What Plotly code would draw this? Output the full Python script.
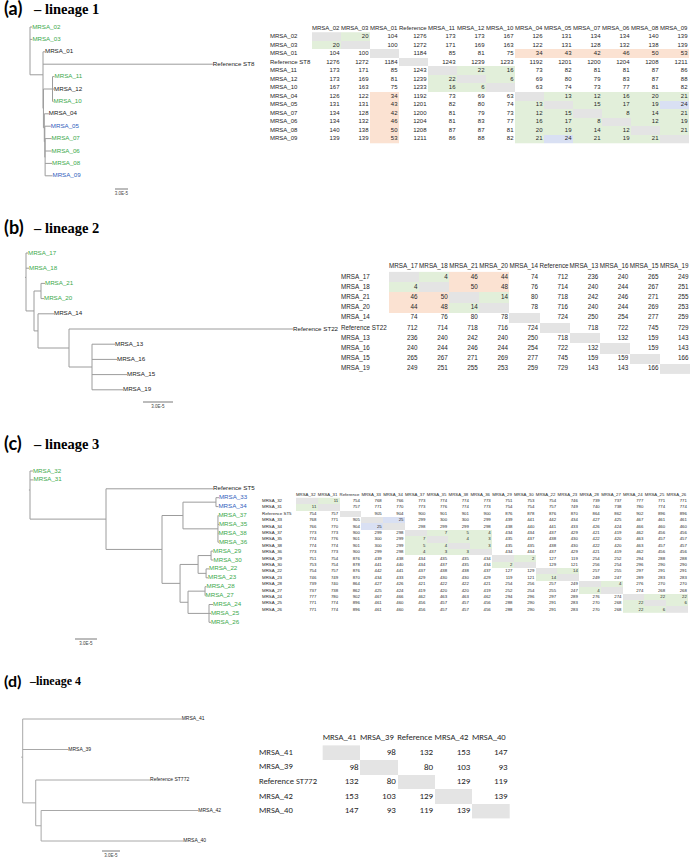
import plotly.graph_objects as go

W, H = 691, 859

# ------------------------------------------------------------------ DATA
# Trees (branch lengths in units of 1E-5 substitutions/site)
tree_a = ("(MRSA_02:0.5,MRSA_03:0.55,(MRSA_01:0.46,Reference ST8:39.2,"
          "((MRSA_11:0.46,MRSA_12:0.35,MRSA_10:0.23):2.1,"
          "(MRSA_04:1.04,(MRSA_05:1.38,(MRSA_07:1.5,MRSA_06:1.5,MRSA_08:1.6,MRSA_09:1.7):0.07):0.12):0.2):0.1):3.0):0;")
tree_b = ("(MRSA_17:0.2,MRSA_18:0.3,((MRSA_21:0.4,MRSA_20:0.3):0.7,"
          "(MRSA_14:1.6,(Reference ST22:22.4,(MRSA_13:2.3,MRSA_16:2.5,MRSA_15:3.5,MRSA_19:3.1):2.3):3.1):0.4):0.8):0.1;")
tree_c = ("(MRSA_32:0.4,MRSA_31:0.48,(Reference ST5:14.6,(((MRSA_33:0.41,MRSA_34:0.34):4.5,"
          "(MRSA_37:0.07,MRSA_35:0.14,MRSA_38:0.07,MRSA_36:0.14):4.77):2.86,"
          "(((MRSA_29:0.27,MRSA_30:0.34):1.77,(MRSA_22:0.41,MRSA_23:0.27):1.09):2.46,"
          "((MRSA_28:0.2,MRSA_27:0.07):2.32,(MRSA_24:0.55,MRSA_25:0.27,MRSA_26:0.27):2.86):1.09):2.46):7.64):10.37):0.15;")
tree_d = ("(MRSA_41:26.5,MRSA_39:7.6,(Reference ST772:19.05,(MRSA_42:26.2,MRSA_40:23.7):0.9):2.17):0.25;")

green_leaves = ["MRSA_02", "MRSA_03", "MRSA_11", "MRSA_10", "MRSA_07", "MRSA_06", "MRSA_08",
                "MRSA_17", "MRSA_18", "MRSA_21", "MRSA_20",
                "MRSA_32", "MRSA_31", "MRSA_37", "MRSA_35", "MRSA_38", "MRSA_36", "MRSA_29", "MRSA_30",
                "MRSA_22", "MRSA_23", "MRSA_28", "MRSA_27", "MRSA_24", "MRSA_25", "MRSA_26"]
blue_leaves = ["MRSA_05", "MRSA_09", "MRSA_33", "MRSA_34"]

# SNP distance matrices
rows_a = ["MRSA_02", "MRSA_03", "MRSA_01", "Reference ST8", "MRSA_11", "MRSA_12", "MRSA_10",
          "MRSA_04", "MRSA_05", "MRSA_07", "MRSA_06", "MRSA_08", "MRSA_09"]
head_a = ["MRSA_02", "MRSA_03", "MRSA_01", "Reference", "MRSA_11", "MRSA_12", "MRSA_10",
          "MRSA_04", "MRSA_05", "MRSA_07", "MRSA_06", "MRSA_08", "MRSA_09"]
dist_a = [
    [None, 20, 104, 1276, 173, 173, 167, 126, 131, 134, 134, 140, 139],
    [20, None, 100, 1272, 171, 169, 163, 122, 131, 128, 132, 138, 139],
    [104, 100, None, 1184, 85, 81, 75, 34, 43, 42, 46, 50, 53],
    [1276, 1272, 1184, None, 1243, 1239, 1233, 1192, 1201, 1200, 1204, 1208, 1211],
    [173, 171, 85, 1243, None, 22, 16, 73, 82, 81, 81, 87, 86],
    [173, 169, 81, 1239, 22, None, 6, 69, 80, 79, 83, 87, 88],
    [167, 163, 75, 1233, 16, 6, None, 63, 74, 73, 77, 81, 82],
    [126, 122, 34, 1192, 73, 69, 63, None, 13, 12, 16, 20, 21],
    [131, 131, 43, 1201, 82, 80, 74, 13, None, 15, 17, 19, 24],
    [134, 128, 42, 1200, 81, 79, 73, 12, 15, None, 8, 14, 21],
    [134, 132, 46, 1204, 81, 83, 77, 16, 17, 8, None, 12, 19],
    [140, 138, 50, 1208, 87, 87, 81, 20, 19, 14, 12, None, 21],
    [139, 139, 53, 1211, 86, 88, 82, 21, 24, 21, 19, 21, None],
]
green_a = [["MRSA_02", "MRSA_03"], ["MRSA_11", "MRSA_12", "MRSA_10"],
           ["MRSA_04", "MRSA_05", "MRSA_07", "MRSA_06", "MRSA_08", "MRSA_09"]]
orange_a = [(["MRSA_01"], ["MRSA_04", "MRSA_05", "MRSA_07", "MRSA_06", "MRSA_08", "MRSA_09"])]
blue_a = [["MRSA_05", "MRSA_09"]]

rows_b = ["MRSA_17", "MRSA_18", "MRSA_21", "MRSA_20", "MRSA_14", "Reference ST22",
          "MRSA_13", "MRSA_16", "MRSA_15", "MRSA_19"]
head_b = ["MRSA_17", "MRSA_18", "MRSA_21", "MRSA_20", "MRSA_14", "Reference",
          "MRSA_13", "MRSA_16", "MRSA_15", "MRSA_19"]
dist_b = [
    [None, 4, 46, 44, 74, 712, 236, 240, 265, 249],
    [4, None, 50, 48, 76, 714, 240, 244, 267, 251],
    [46, 50, None, 14, 80, 718, 242, 246, 271, 255],
    [44, 48, 14, None, 78, 716, 240, 244, 269, 253],
    [74, 76, 80, 78, None, 724, 250, 254, 277, 259],
    [712, 714, 718, 716, 724, None, 718, 722, 745, 729],
    [236, 240, 242, 240, 250, 718, None, 132, 159, 143],
    [240, 244, 246, 244, 254, 722, 132, None, 159, 143],
    [265, 267, 271, 269, 277, 745, 159, 159, None, 166],
    [249, 251, 255, 253, 259, 729, 143, 143, 166, None],
]
green_b = [["MRSA_17", "MRSA_18"], ["MRSA_21", "MRSA_20"]]
orange_b = [(["MRSA_17", "MRSA_18"], ["MRSA_21", "MRSA_20"])]
blue_b = []

rows_c = ["MRSA_32", "MRSA_31", "Reference ST5", "MRSA_33", "MRSA_34", "MRSA_37", "MRSA_35", "MRSA_38",
          "MRSA_36", "MRSA_29", "MRSA_30", "MRSA_22", "MRSA_23", "MRSA_28", "MRSA_27", "MRSA_24",
          "MRSA_25", "MRSA_26"]
head_c = ["MRSA_32", "MRSA_31", "Reference", "MRSA_33", "MRSA_34", "MRSA_37", "MRSA_35", "MRSA_38",
          "MRSA_36", "MRSA_29", "MRSA_30", "MRSA_22", "MRSA_23", "MRSA_28", "MRSA_27", "MRSA_24",
          "MRSA_25", "MRSA_26"]
dist_c = [
    [None, 11, 754, 768, 766, 773, 774, 774, 773, 751, 753, 754, 746, 739, 737, 777, 771, 771],
    [11, None, 757, 771, 770, 773, 776, 774, 773, 754, 754, 757, 749, 740, 738, 780, 774, 774],
    [754, 757, None, 905, 904, 900, 901, 901, 900, 876, 878, 876, 870, 864, 862, 902, 896, 896],
    [768, 771, 905, None, 25, 299, 300, 300, 299, 439, 441, 442, 434, 427, 425, 467, 461, 461],
    [766, 770, 904, 25, None, 298, 299, 299, 298, 438, 440, 441, 433, 426, 424, 466, 460, 460],
    [773, 773, 900, 299, 298, None, 7, 5, 4, 434, 434, 437, 429, 421, 419, 462, 456, 456],
    [774, 776, 901, 300, 299, 7, None, 4, 3, 435, 437, 438, 430, 422, 420, 463, 457, 457],
    [774, 774, 901, 300, 299, 5, 4, None, 3, 435, 435, 438, 430, 422, 420, 463, 457, 457],
    [773, 773, 900, 299, 298, 4, 3, 3, None, 434, 434, 437, 429, 421, 419, 462, 456, 456],
    [751, 754, 876, 439, 438, 434, 435, 435, 434, None, 2, 127, 119, 254, 252, 294, 288, 288],
    [753, 754, 878, 441, 440, 434, 437, 435, 434, 2, None, 129, 121, 256, 254, 296, 290, 290],
    [754, 757, 876, 442, 441, 437, 438, 438, 437, 127, 129, None, 14, 257, 255, 297, 291, 291],
    [746, 749, 870, 434, 433, 429, 430, 430, 429, 119, 121, 14, None, 249, 247, 289, 283, 283],
    [739, 740, 864, 427, 426, 421, 422, 422, 421, 254, 256, 257, 249, None, 4, 276, 270, 270],
    [737, 738, 862, 425, 424, 419, 420, 420, 419, 252, 254, 255, 247, 4, None, 274, 268, 268],
    [777, 780, 902, 467, 466, 462, 463, 463, 462, 294, 296, 297, 289, 276, 274, None, 22, 22],
    [771, 774, 896, 461, 460, 456, 457, 457, 456, 288, 290, 291, 283, 270, 268, 22, None, 6],
    [771, 774, 896, 461, 460, 456, 457, 457, 456, 288, 290, 291, 283, 270, 268, 22, 6, None],
]
green_c = [["MRSA_32", "MRSA_31"], ["MRSA_37", "MRSA_35", "MRSA_38", "MRSA_36"],
           ["MRSA_29", "MRSA_30"], ["MRSA_22", "MRSA_23"], ["MRSA_28", "MRSA_27"],
           ["MRSA_24", "MRSA_25", "MRSA_26"]]
orange_c = []
blue_c = [["MRSA_33", "MRSA_34"]]

rows_d = ["MRSA_41", "MRSA_39", "Reference ST772", "MRSA_42", "MRSA_40"]
head_d = ["MRSA_41", "MRSA_39", "Reference", "MRSA_42", "MRSA_40"]
dist_d = [
    [None, 98, 132, 153, 147],
    [98, None, 80, 103, 93],
    [132, 80, None, 129, 119],
    [153, 103, 129, None, 139],
    [147, 93, 119, 139, None],
]
green_d, orange_d, blue_d = [], [], []

titles = [("(a)", "– lineage 1"), ("(b)", "– lineage 2"), ("(c)", "– lineage 3"), ("(d)", "–lineage 4")]
scale_label = "3.0E-5"
scale_len = 3.0

# ------------------------------------------------------------------ STYLE
GREEN = "#3aa94a"
BLUE = "#2f5dbd"
BLACK = "#1a1a1a"
LINE = "#9c9c9c"
TXT = "#262626"
C_GRAY, C_GREEN, C_ORANGE, C_BLUE = "#e4e4e4", "#e2efda", "#fbe2d2", "#d9e0f3"
SANS = "Liberation Sans, Arial, sans-serif"
XL = "Carlito, Lato, sans-serif"
SERIF = "Liberation Serif, Times New Roman, serif"


def parse_newick(s):
    s = s.strip().rstrip(";")
    pos = 0

    def node():
        nonlocal pos
        n = {"children": [], "name": "", "len": 0.0}
        if s[pos] == "(":
            pos += 1
            while True:
                n["children"].append(node())
                if s[pos] == ",":
                    pos += 1
                    continue
                if s[pos] == ")":
                    pos += 1
                    break
        start = pos
        while pos < len(s) and s[pos] not in ":,()":
            pos += 1
        n["name"] = s[start:pos].strip()
        if pos < len(s) and s[pos] == ":":
            pos += 1
            start = pos
            while pos < len(s) and s[pos] not in ",()":
                pos += 1
            n["len"] = float(s[start:pos])
        return n

    return node()


def tree_layout(root):
    leaves, sx, sy = [], [], []

    def walk(n, x0):
        x = x0 + n["len"]
        if not n["children"]:
            y = len(leaves)
            leaves.append((n["name"], x, y))
        else:
            ys = [walk(c, x) for c in n["children"]]
            y = sum(ys) / len(ys)
            sx.extend([x, x, None])
            sy.extend([min(ys), max(ys), None])
        sx.extend([x0, x, None])
        sy.extend([y, y, None])
        return y

    walk(root, -root["len"])
    return leaves, sx, sy


def shade(names, green, orange, blue):
    idx = {nm: i for i, nm in enumerate(names)}
    n = len(names)
    z = [[None] * n for _ in range(n)]
    for i in range(n):
        z[i][i] = 1
    for g in green:
        for a in g:
            for b in g:
                if a != b:
                    z[idx[a]][idx[b]] = 2
    for ga, gb in orange:
        for a in ga:
            for b in gb:
                z[idx[a]][idx[b]] = 3
                z[idx[b]][idx[a]] = 3
    for g in blue:
        for a in g:
            for b in g:
                if a != b:
                    z[idx[a]][idx[b]] = 4
    return z


CS = [[0.0, "#ffffff"], [0.2, "#ffffff"], [0.2, C_GRAY], [0.4, C_GRAY], [0.4, C_GREEN], [0.6, C_GREEN],
      [0.6, C_ORANGE], [0.8, C_ORANGE], [0.8, C_BLUE], [1.0, C_BLUE]]

fig = go.Figure()
axis_count = [0]
layout_axes = {}


def new_axes(xr, yr):
    axis_count[0] += 1
    k = axis_count[0]
    sfx = "" if k == 1 else str(k)
    layout_axes["xaxis" + sfx] = dict(range=xr, domain=[0, 1], visible=False, fixedrange=True,
                                      anchor="y" + sfx)
    layout_axes["yaxis" + sfx] = dict(range=yr, domain=[0, 1], visible=False, fixedrange=True,
                                      anchor="x" + sfx)
    return "x" + sfx, "y" + sfx


def add_tree(newick, root_px, ppu, y0, dy, fs, sb_px, sb_y, sbl_y, lw=1, lcol=LINE):
    root = parse_newick(newick)
    leaves, sx, sy = tree_layout(root)
    xr = [(0 - root_px) / ppu, (W - root_px) / ppu]
    yr = [(H - y0) / dy, (0 - y0) / dy]
    xa, ya = new_axes(xr, yr)
    fig.add_trace(go.Scatter(x=sx, y=sy, mode="lines", line=dict(color=lcol, width=lw),
                             hoverinfo="skip", xaxis=xa, yaxis=ya))
    cols = [GREEN if nm in green_leaves else BLUE if nm in blue_leaves else BLACK for nm, _, _ in leaves]
    fig.add_trace(go.Scatter(x=[l[1] for l in leaves], y=[l[2] for l in leaves],
                             text=[l[0] for l in leaves], mode="text", textposition="middle right",
                             textfont=dict(size=fs, family=SANS, color=cols),
                             hoverinfo="skip", xaxis=xa, yaxis=ya))
    # scale bar
    bx = (sb_px - root_px) / ppu
    by = (sb_y - y0) / dy
    fig.add_trace(go.Scatter(x=[bx, bx + scale_len], y=[by, by], mode="lines",
                             line=dict(color="#555555", width=0.8), hoverinfo="skip", xaxis=xa, yaxis=ya))
    fig.add_trace(go.Scatter(x=[bx + scale_len / 2], y=[(sbl_y - y0) / dy], text=[scale_label],
                             mode="text", textfont=dict(size=4.5, family=SANS, color="#444444"),
                             hoverinfo="skip", xaxis=xa, yaxis=ya))


def add_matrix(rows, head, vals, codes, x0, w, y0, h, lab_px, fs, fs_lab, fs_head, family):
    n = len(rows)
    xr = [(0 - x0) / w - 0.5, (W - x0) / w - 0.5]
    yr = [(H - y0) / h, (0 - y0) / h]
    xa, ya = new_axes(xr, yr)
    fig.add_trace(go.Heatmap(z=codes, x=list(range(n)), y=list(range(n)), colorscale=CS, zmin=-0.5,
                             zmax=4.5, showscale=False, hoverinfo="skip", xaxis=xa, yaxis=ya))
    tx, ty, tt = [], [], []
    for i in range(n):
        for j in range(n):
            if vals[i][j] is None:
                continue
            tx.append(j + 0.5 - 1.5 / w)
            ty.append(i)
            tt.append(str(vals[i][j]))
    fig.add_trace(go.Scatter(x=tx, y=ty, text=tt, mode="text", textposition="middle left",
                             textfont=dict(size=fs, family=family, color=TXT),
                             hoverinfo="skip", xaxis=xa, yaxis=ya))
    lx = (lab_px - x0) / w - 0.5
    fig.add_trace(go.Scatter(x=[lx] * n, y=list(range(n)), text=rows, mode="text",
                             textposition="middle right",
                             textfont=dict(size=fs_lab, family=family, color=TXT),
                             hoverinfo="skip", xaxis=xa, yaxis=ya))
    fig.add_trace(go.Scatter(x=[j - 0.5 for j in range(n)], y=[-1] * n, text=head, mode="text",
                             textposition="middle right",
                             textfont=dict(size=fs_head, family=family, color=TXT),
                             hoverinfo="skip", xaxis=xa, yaxis=ya))


# panel a
add_matrix(rows_a, head_a, dist_a, shade(rows_a, green_a, orange_a, blue_a),
           x0=312, w=29.0, y0=36.5, h=8.5, lab_px=270, fs=6, fs_lab=6, fs_head=6, family=SANS)
add_tree(tree_a, root_px=30, ppu=4.333, y0=27, dy=12.4, fs=6.2, sb_px=115, sb_y=189, sbl_y=194)
# panel b
add_matrix(rows_b, head_b, dist_b, shade(rows_b, green_b, orange_b, blue_b),
           x0=389, w=30.1, y0=277, h=10.2, lab_px=341, fs=6.3, fs_lab=6.3, fs_head=6.3, family=SANS)
add_tree(tree_b, root_px=26, ppu=10.0, y0=253, dy=15.2, fs=6.2, sb_px=143, sb_y=402, sbl_y=407)
# panel c
add_matrix(rows_c, head_c, dist_c, shade(rows_c, green_c, orange_c, blue_c),
           x0=296, w=21.8, y0=501, h=6.4, lab_px=262, fs=4.3, fs_lab=4.4, fs_head=4.3, family=SANS)
add_tree(tree_c, root_px=30, ppu=7.33, y0=471, dy=8.9, fs=6.2, sb_px=75, sb_y=639, sbl_y=644)
# panel d
add_matrix(rows_d, head_d, dist_d, shade(rows_d, green_d, orange_d, blue_d),
           x0=322.7, w=37.3, y0=752.7, h=14.6, lab_px=259, fs=9, fs_lab=8.6, fs_head=8.6, family=XL)
add_tree(tree_d, root_px=22.7, ppu=6.0, y0=719, dy=30.5, fs=5, sb_px=102, sb_y=851, sbl_y=856,
         lcol="#a8a8a8")

# titles
title_pos = [(8, 18, 14.5, 31), (227, 18, 14.5, 31), (443, 18, 14.5, 31), (680, 16, 12, 27)]
annotations = []
for (lab, txt), (ty, s1, s2, x2) in zip(titles, title_pos):
    annotations.append(dict(x=2 / W, y=1 - ty / H, xref="paper", yref="paper", xanchor="left",
                            yanchor="middle", showarrow=False, text="<b>" + lab + "</b>",
                            font=dict(family="Lato, sans-serif", size=s1, color="#000000")))
    annotations.append(dict(x=x2 / W, y=1 - (ty + 1) / H, xref="paper", yref="paper", xanchor="left",
                            yanchor="middle", showarrow=False, text="<b>" + txt + "</b>",
                            font=dict(family=SERIF, size=s2, color="#000000")))

fig.update_layout(width=W, height=H, margin=dict(l=0, r=0, t=0, b=0), paper_bgcolor="white",
                  plot_bgcolor="rgba(0,0,0,0)", showlegend=False, annotations=annotations,
                  hovermode=False, **layout_axes)
fig.write_html("out.html", config={"displayModeBar": False, "staticPlot": True},
               post_script="document.body.style.margin='0';document.body.style.overflow='hidden';")
